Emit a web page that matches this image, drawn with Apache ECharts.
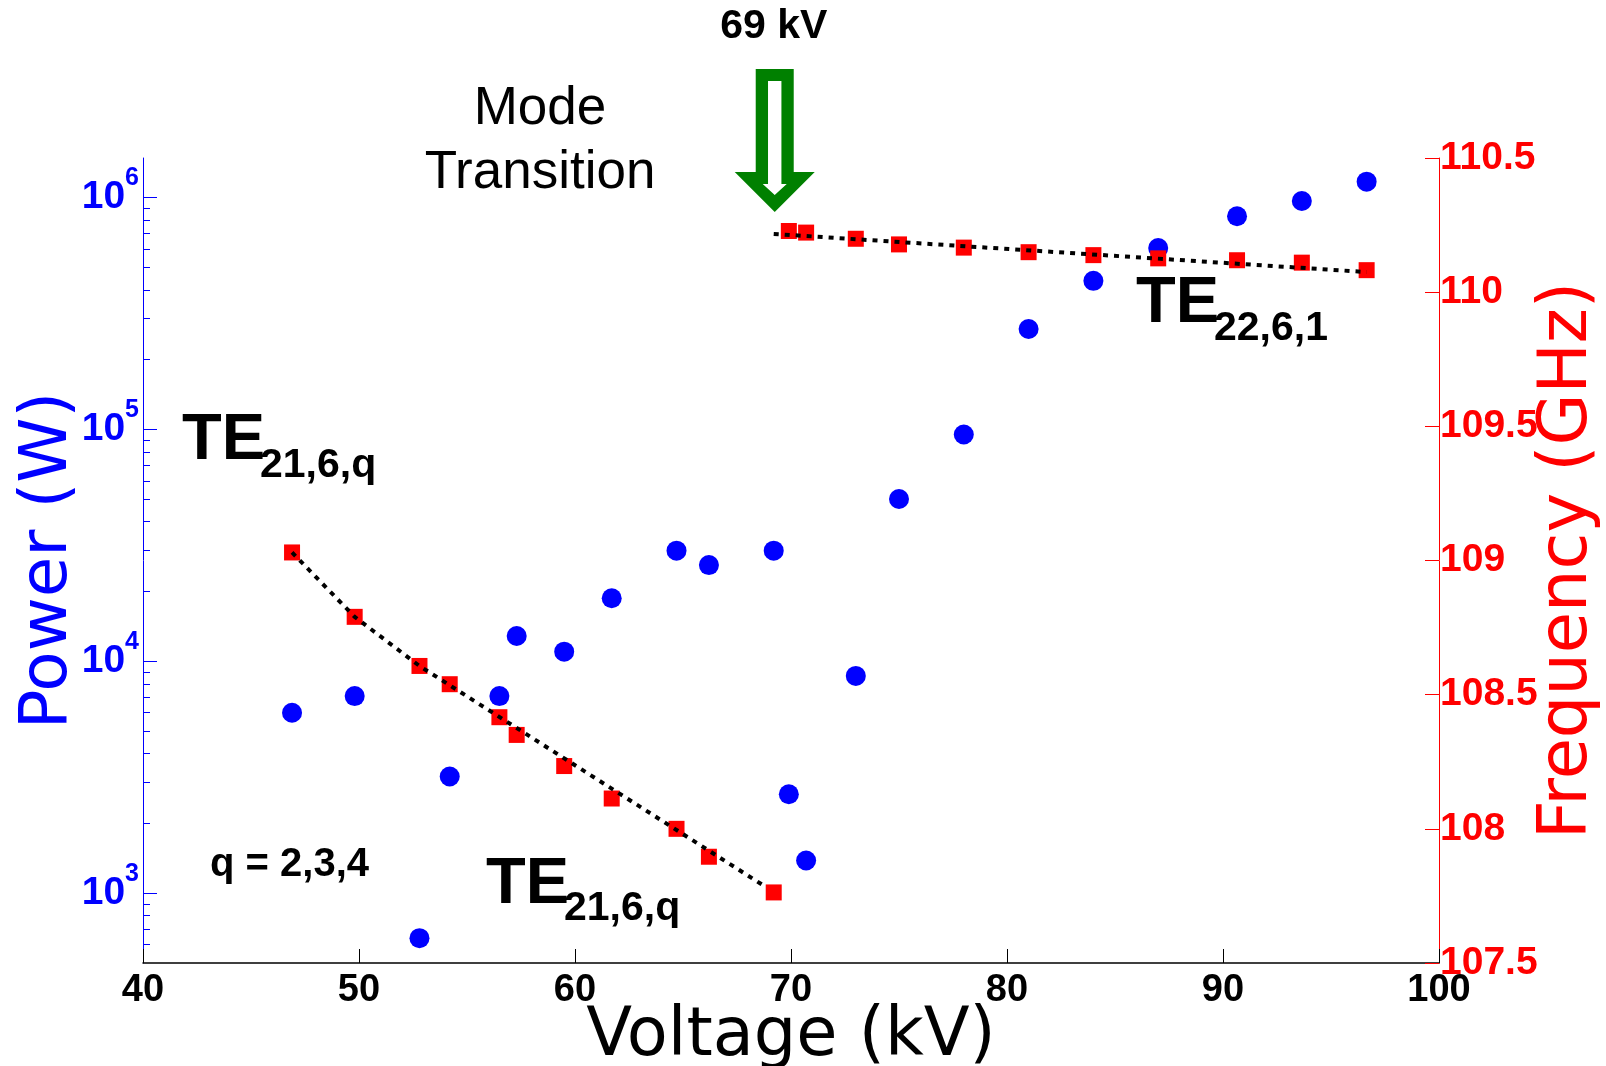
<!DOCTYPE html>
<html>
<head>
    <meta charset="utf-8">
    <script src="https://cdn.jsdelivr.net/npm/echarts@6/dist/echarts.min.js"></script>
    <style>
        html, body { margin: 0; padding: 0; background: #fff; }
    </style>
</head>
<body>
    <div id="main" style="width: 1606px;height:1066px"></div>

    <script type="text/javascript">
        // 数据
        var voltage = [46.9, 49.8, 52.8, 54.2, 56.5, 57.3, 59.5, 61.7, 64.7, 66.2, 69.2,
                       69.9, 70.7, 73.0, 75.0, 78.0, 81.0, 84.0, 87.0, 90.65, 93.65, 96.65];
        var power = [6000, 7080, 640, 3185, 7080, 12850, 11000, 18700, 30000, 26000, 30000,
                     2670, 1383, 8650, 50100, 95000, 271000, 437000, 605000, 830000, 966000, 1170000];
        var frequency = [109.03, 108.79, 108.607, 108.539, 108.416, 108.35, 108.234, 108.113, 108.0, 107.896, 107.763,
                         110.228, 110.222, 110.199, 110.178, 110.166, 110.149, 110.138, 110.126, 110.119, 110.11, 110.082];
        // dotted guide lines
        var lowFitV = [46.9, 49.8, 52.8, 68.8];
        var lowFitF = [109.03, 108.79, 108.607, 107.785];
        var highFitV = [69.2, 96.65];
        var highFitF = [110.217, 110.075];
        var transitionV = 69.2;

        var powerMajor = [1e3, 1e4, 1e5, 1e6];
        var powerMinor = [600, 700, 800, 900,
                          2000, 3000, 4000, 5000, 6000, 7000, 8000, 9000,
                          20000, 30000, 40000, 50000, 60000, 70000, 80000, 90000,
                          200000, 300000, 400000, 500000, 600000, 700000, 800000, 900000];

        var zip = function (a, b) {
            var out = [];
            for (var i = 0; i < a.length; i++) out.push([a[i], b[i]]);
            return out;
        };

        var ARIAL = 'Liberation Sans, Arial, sans-serif';
        var WIDE = 'DejaVu Sans, sans-serif';

        var myChart = echarts.init(document.getElementById('main'));
        var option = {
            animation: false,
            backgroundColor: '#fff',
            grid: { left: 143, right: 167, top: 158, bottom: 103, outerBoundsMode: 'none', containLabel: false },
            xAxis: {
                type: 'value',
                min: 40, max: 100, interval: 10,
                name: 'Voltage (kV)',
                nameLocation: 'middle',
                nameMoveOverlap: false,
                nameGap: 41,
                nameTextStyle: { fontFamily: WIDE, fontSize: 67, color: '#000' },
                axisLine: { lineStyle: { color: '#000', width: 1.5 } },
                axisTick: { inside: true, length: 14, lineStyle: { color: '#000', width: 1 } },
                axisLabel: { margin: 9, fontFamily: ARIAL, fontWeight: 'bold', fontSize: 38, color: '#000' },
                splitLine: { show: false }
            },
            yAxis: [{
                type: 'log', logBase: 10,
                min: 500, max: 1.48e6,
                position: 'left',
                name: 'Power (W)',
                nameLocation: 'middle',
                nameMoveOverlap: false,
                nameGap: 61,
                nameTextStyle: { fontFamily: WIDE, fontSize: 66, color: '#0000ff' },
                axisLine: { show: true, lineStyle: { color: '#0000ff', width: 1 } },
                axisTick: { inside: true, length: 14, customValues: powerMajor, lineStyle: { color: '#0000ff' } },
                axisLabel: {
                    margin: 4,
                    customValues: powerMajor,
                    formatter: function (v) {
                        return '{b|10}{s|' + Math.round(Math.log10(v)) + '}';
                    },
                    rich: {
                        b: { fontFamily: ARIAL, fontWeight: 'bold', fontSize: 39, lineHeight: 39, color: '#0000ff', padding: [12, 0, 12, 0] },
                        s: { fontFamily: ARIAL, fontWeight: 'bold', fontSize: 25, lineHeight: 25, color: '#0000ff', padding: [0, 0, 38, 0] }
                    }
                },
                splitLine: { show: false }
            }, {
                type: 'log', logBase: 10,
                min: 500, max: 1.48e6,
                position: 'left',
                axisLine: { show: false },
                axisTick: { inside: true, length: 7, customValues: powerMinor, lineStyle: { color: '#0000ff' } },
                axisLabel: { show: false },
                splitLine: { show: false }
            }, {
                type: 'value',
                min: 107.5, max: 110.5, interval: 0.5,
                position: 'right',
                name: 'Frequency (GHz)',
                nameLocation: 'middle',
                nameMoveOverlap: false,
                nameRotate: 90,
                nameGap: 96,
                nameTextStyle: { fontFamily: WIDE, fontSize: 67, color: '#ff0000' },
                axisLine: { show: true, lineStyle: { color: '#ff0000', width: 1 } },
                axisTick: { inside: true, length: 14, lineStyle: { color: '#ff0000' } },
                axisLabel: { margin: 1, fontFamily: ARIAL, fontWeight: 'bold', fontSize: 39, color: '#ff0000' },
                splitLine: { show: false }
            }],
            series: [{
                name: 'Power',
                type: 'scatter',
                yAxisIndex: 0,
                symbol: 'circle',
                symbolSize: 20,
                itemStyle: { color: '#0000ff', opacity: 1 },
                data: zip(voltage, power)
            }, {
                name: 'Frequency',
                type: 'scatter',
                yAxisIndex: 2,
                symbol: 'rect',
                symbolSize: 16,
                itemStyle: { color: '#ff0000', opacity: 1 },
                data: zip(voltage, frequency)
            }, {
                name: 'fit low',
                type: 'line',
                yAxisIndex: 2,
                symbol: 'none',
                z: 5,
                lineStyle: { color: '#000', width: 4, type: [5, 6] },
                data: zip(lowFitV, lowFitF)
            }, {
                name: 'fit high',
                type: 'line',
                yAxisIndex: 2,
                symbol: 'none',
                z: 5,
                lineStyle: { color: '#000', width: 4, type: [5, 6] },
                data: zip(highFitV, highFitF)
            }]
        };

        myChart.setOption(option);

        // annotations
        var ax = myChart.convertToPixel({ xAxisIndex: 0 }, transitionV) + 1;
        var txt = function (x, y, s, size, bold, align) {
            return {
                type: 'text', x: x, y: y, z: 10,
                style: {
                    text: s, fill: '#000',
                    font: (bold ? 'bold ' : '') + size + 'px ' + ARIAL,
                    align: align || 'left', verticalAlign: 'middle'
                }
            };
        };
        myChart.setOption({
            graphic: [
                {
                    type: 'polygon', z: 10,
                    shape: { points: [[ax - 19, 69], [ax + 19, 69], [ax + 19, 172], [ax + 40, 172], [ax, 212], [ax - 40, 172], [ax - 19, 172]] },
                    style: { fill: '#008000' }
                },
                {
                    type: 'polygon', z: 11,
                    shape: { points: [[ax - 6.7, 81], [ax + 6.7, 81], [ax + 6.7, 184], [ax + 12, 184], [ax, 195], [ax - 12, 184], [ax - 6.7, 184]] },
                    style: { fill: '#fff' }
                },
                txt(ax - 1, 26.5, '69 kV', 41, true, 'center'),
                txt(540, 109, 'Mode', 53, false, 'center'),
                txt(540, 173, 'Transition', 53, false, 'center'),
                txt(1136, 304, 'TE', 65, true),
                txt(1214, 329, '22,6,1', 41, true),
                txt(182, 441.5, 'TE', 65, true),
                txt(260, 466, '21,6,q', 41, true),
                txt(486, 885, 'TE', 65, true),
                txt(564, 909, '21,6,q', 41, true),
                txt(210, 864.5, 'q = 2,3,4', 40, true)
            ]
        });
    </script>
</body>
</html>
